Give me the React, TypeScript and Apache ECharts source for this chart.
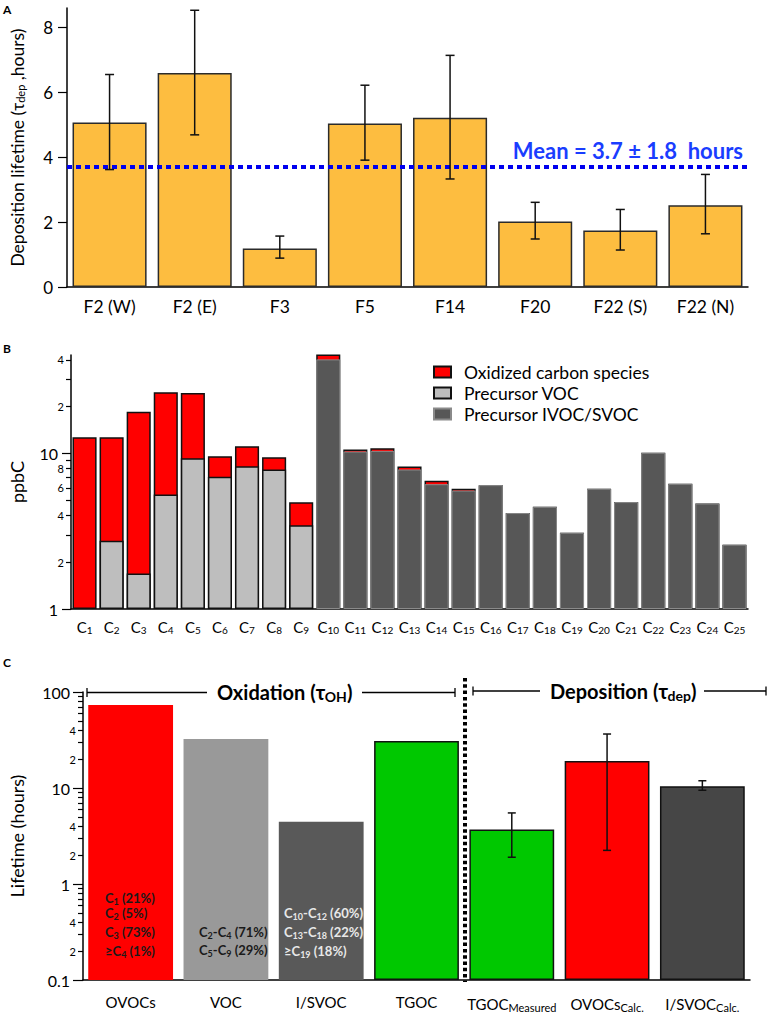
import React, { useEffect, useRef } from 'react';
import * as echarts from 'echarts';

const FONT = 'Lato, "Noto Sans", "DejaVu Sans", sans-serif';

// ---------- Panel A ----------
const fieldCategories = ['F2 (W)', 'F2 (E)', 'F3', 'F5', 'F14', 'F20', 'F22 (S)', 'F22 (N)'];
const depLifetime = [5.07, 6.6, 1.19, 5.04, 5.22, 2.02, 1.74, 2.52];
const depErrLow = [3.62, 4.69, 0.89, 3.91, 3.33, 1.48, 1.14, 1.64];
const depErrHigh = [6.55, 8.53, 1.57, 6.22, 7.14, 2.61, 2.39, 3.47];
const meanLifetime = 3.7;
const meanStd = 1.8;
const lifetimeTicks = [0, 2, 4, 6, 8];

// ---------- Panel B ----------
const carbonNumbers = [
  'C_1', 'C_2', 'C_3', 'C_4', 'C_5', 'C_6', 'C_7', 'C_8', 'C_9', 'C_10', 'C_11', 'C_12', 'C_13',
  'C_14', 'C_15', 'C_16', 'C_17', 'C_18', 'C_19', 'C_20', 'C_21', 'C_22', 'C_23', 'C_24', 'C_25',
];
const oxidizedCarbon = [
  12.7, 9.95, 16.9, 19.3, 15.2, 2.53, 2.85, 1.58, 1.4, 3.0, 0.3, 0.4, 0.37,
  0.32, 0.15, 0, 0, 0, 0, 0, 0, 0, 0, 0, 0,
];
const precursorVOC: (number | null)[] = [
  null, 2.75, 1.69, 5.45, 9.33, 7.08, 8.29, 7.89, 3.45, null, null, null, null,
  null, null, null, null, null, null, null, null, null, null, null, null,
];
const precursorIVOC: (number | null)[] = [
  null, null, null, null, null, null, null, null, null, 40.3, 10.3, 10.4, 7.89,
  6.35, 5.78, 6.26, 4.14, 4.54, 3.09, 5.93, 4.87, 10.1, 6.38, 4.77, 2.59,
];
const ppbcMajorTicks = [1, 10];
const ppbcMinorTicks = [2, 3, 4, 5, 6, 7, 8, 9, 20, 30, 40];
const ppbcLabels = [1, 2, 4, 6, 8, 10, 20, 40];

// ---------- Panel C ----------
const lifetimeCategories = ['OVOCs', 'VOC', 'I/SVOC', 'TGOC', 'TGOC_Measured', 'OVOCs_Calc.', 'I/SVOC_Calc.'];
const lifetimeHours = [73.3, 32.3, 4.45, 30.9, 3.7, 19.1, 10.4];
const lifetimeErrLow: (number | null)[] = [null, null, null, null, 1.9, 2.24, 9.47];
const lifetimeErrHigh: (number | null)[] = [null, null, null, null, 5.5, 36.5, 11.9];
const lifeMajorTicks = [0.1, 1, 10, 100];
const lifeMinorTicks = [0.2, 0.3, 0.4, 0.5, 0.6, 0.7, 0.8, 0.9, 2, 3, 4, 5, 6, 7, 8, 9, 20, 30, 40, 50, 60, 70, 80, 90];
const lifeLabels = [0.1, 0.2, 0.4, 1, 2, 4, 10, 20, 40, 100];

// styles (not data)
const lifetimeColors = ['#ff0000', '#999999', '#595959', '#00c800', '#00c800', '#ff0000', '#464646'];
const lifetimeBorders = [0, 0, 0, 1.5, 1.5, 1.5, 1.5];

const subFmt = (v: string) => {
  const [a, b] = v.split('_');
  return b ? `${a}{s|${b}}` : a;
};

const logLabel = (v: number) => {
  const e = Math.floor(Math.log10(v) + 1e-9);
  const m = Math.round(v / Math.pow(10, e));
  if (m === 1) return `{big|${Number(v.toPrecision(3))}}`;
  return `{small|${m}}`;
};

const errRender = (hw: number) => (params: any, api: any) => {
  const idx = api.value(0);
  const lo = api.value(1);
  const hi = api.value(2);
  const pHi = api.coord([idx, hi]);
  const pLo = api.coord([idx, lo]);
  const st = { stroke: '#111', lineWidth: 1.5 };
  return {
    type: 'group',
    children: [
      { type: 'line', shape: { x1: pHi[0], y1: pHi[1], x2: pLo[0], y2: pLo[1] }, style: st },
      { type: 'line', shape: { x1: pHi[0] - hw, y1: pHi[1], x2: pHi[0] + hw, y2: pHi[1] }, style: st },
      { type: 'line', shape: { x1: pLo[0] - hw, y1: pLo[1], x2: pLo[0] + hw, y2: pLo[1] }, style: st },
    ],
  };
};

const axisLineStyle = { lineStyle: { color: '#000', width: 1.5 } };
const tickStyle = { color: '#000', width: 1.2 };

const logLabelRich = {
  big: { fontSize: 16, fontFamily: FONT, color: '#000', padding: [0, 6, 0, 0] },
  small: { fontSize: 11, fontFamily: FONT, color: '#000' },
};

const annText = (text: string, x: number, y: number, fill: string) => ({
  type: 'text',
  x,
  y,
  z: 100,
  zlevel: 1,
  style: {
    text,
    fill,
    fontSize: 13,
    fontWeight: 'bold',
    fontFamily: FONT,
    verticalAlign: 'middle',
    align: 'left',
    rich: {
      s: { fontSize: 9, fontWeight: 'bold', fontFamily: FONT, fill, padding: [6, 0, 0, 0] },
    },
  },
});

const hLine = (x1: number, x2: number, y: number) => ({
  type: 'line',
  shape: { x1, y1: y, x2, y2: y },
  style: { stroke: '#000', lineWidth: 1.3 },
});
const vBar = (x: number, y: number) => ({
  type: 'line',
  shape: { x1: x, y1: y - 4.5, x2: x, y2: y + 4.5 },
  style: { stroke: '#000', lineWidth: 1.3 },
});

const buildOption = () => ({
  animation: false,
  textStyle: { fontFamily: FONT },
  grid: [
    { left: 67, right: 20, top: 8, height: 279 },
    { left: 68, right: 20, top: 355, height: 254 },
    { left: 79, right: 18, top: 692, height: 288 },
  ],
  legend: {
    data: ['Oxidized carbon species', 'Precursor VOC', 'Precursor IVOC/SVOC'],
    orient: 'vertical',
    left: 428,
    top: 358,
    itemWidth: 17,
    itemHeight: 11,
    itemGap: 3,
    icon: 'rect',
    textStyle: { fontSize: 17.5, fontFamily: FONT, color: '#000', padding: [0, 0, 0, 8] },
  },
  xAxis: [
    {
      gridIndex: 0,
      type: 'category',
      data: fieldCategories,
      axisLine: axisLineStyle,
      axisTick: { length: 9, lineStyle: tickStyle },
      axisLabel: { color: '#000', fontSize: 17.5, fontFamily: FONT, margin: 10 },
    },
    {
      gridIndex: 1,
      type: 'category',
      data: carbonNumbers,
      axisLine: axisLineStyle,
      axisTick: { length: 9, lineStyle: tickStyle },
      axisLabel: {
        color: '#000',
        fontSize: 15,
        fontFamily: FONT,
        margin: 9,
        interval: 0,
        formatter: subFmt,
        rich: { s: { fontSize: 10, fontFamily: FONT, color: '#000', padding: [7, 0, 0, 0] } },
      },
    },
    {
      gridIndex: 2,
      type: 'category',
      data: lifetimeCategories,
      axisLine: axisLineStyle,
      axisTick: { length: 10, lineStyle: tickStyle },
      axisLabel: {
        color: '#000',
        fontSize: 15,
        fontFamily: FONT,
        margin: 14,
        interval: 0,
        formatter: subFmt,
        rich: { s: { fontSize: 11, fontFamily: FONT, color: '#000', padding: [8, 0, 0, 0] } },
      },
    },
  ],
  yAxis: [
    {
      gridIndex: 0,
      type: 'value',
      min: 0,
      max: 8.6,
      name: 'Deposition lifetime (τ{s|dep} ,hours)',
      nameLocation: 'middle',
      nameGap: 41,
      nameTextStyle: {
        fontSize: 17.5,
        fontFamily: FONT,
        color: '#000',
        rich: { s: { fontSize: 11, fontFamily: FONT, color: '#000', padding: [7, 0, 0, 0] } },
      },
      axisLine: { show: true, ...axisLineStyle },
      axisTick: { show: true, length: 9, lineStyle: tickStyle, customValues: lifetimeTicks },
      axisLabel: { customValues: lifetimeTicks, color: '#000', fontSize: 17, fontFamily: FONT, margin: 14 },
      splitLine: { show: false },
    },
    {
      gridIndex: 1,
      type: 'log',
      logBase: 10,
      min: 1,
      max: 43,
      name: 'ppbC',
      nameLocation: 'middle',
      nameGap: 45,
      nameTextStyle: { fontSize: 18, fontFamily: FONT, color: '#000' },
      axisLine: { show: true, ...axisLineStyle },
      axisTick: { show: true, length: 9, lineStyle: tickStyle, customValues: ppbcMajorTicks },
      axisLabel: { customValues: ppbcLabels, formatter: logLabel, rich: logLabelRich, margin: 7 },
      splitLine: { show: false },
    },
    {
      gridIndex: 1,
      type: 'log',
      logBase: 10,
      min: 1,
      max: 43,
      position: 'left',
      axisLine: { show: false },
      axisTick: { show: true, length: 5, lineStyle: tickStyle, customValues: ppbcMinorTicks },
      axisLabel: { show: false },
      splitLine: { show: false },
    },
    {
      gridIndex: 2,
      type: 'log',
      logBase: 10,
      min: 0.1,
      max: 100,
      startValue: 0.1,
      name: 'Lifetime (hours)',
      nameLocation: 'middle',
      nameGap: 57,
      nameTextStyle: { fontSize: 18, fontFamily: FONT, color: '#000' },
      axisLine: { show: true, ...axisLineStyle },
      axisTick: { show: true, length: 10, lineStyle: tickStyle, customValues: lifeMajorTicks },
      axisLabel: { customValues: lifeLabels, formatter: logLabel, rich: logLabelRich, margin: 7 },
      splitLine: { show: false },
    },
    {
      gridIndex: 2,
      type: 'log',
      logBase: 10,
      min: 0.1,
      max: 100,
      position: 'left',
      axisLine: { show: false },
      axisTick: { show: true, length: 5, lineStyle: tickStyle, customValues: lifeMinorTicks },
      axisLabel: { show: false },
      splitLine: { show: false },
    },
  ],
  series: [
    {
      type: 'bar',
      xAxisIndex: 0,
      yAxisIndex: 0,
      data: depLifetime,
      barCategoryGap: '13%',
      itemStyle: { color: '#fdbd40', borderColor: '#2b2b2b', borderWidth: 1.5 },
      markLine: {
        silent: true,
        symbol: 'none',
        data: [{ yAxis: meanLifetime }],
        lineStyle: { color: '#0000ee', width: 4, type: [5, 4] },
        label: {
          position: 'insideEndTop',
          formatter: `Mean = ${meanLifetime} ± ${meanStd}  hours`,
          color: '#1a3dff',
          fontSize: 22,
          fontWeight: 'bold',
          fontFamily: FONT,
          distance: 5,
        },
      },
    },
    {
      type: 'custom',
      xAxisIndex: 0,
      yAxisIndex: 0,
      z: 5,
      data: fieldCategories.map((_, i) => [i, depErrLow[i], depErrHigh[i]]),
      encode: { x: 0, y: [1, 2] },
      renderItem: errRender(4.5),
    },
    {
      name: 'Oxidized carbon species',
      type: 'bar',
      xAxisIndex: 1,
      yAxisIndex: 1,
      barGap: '-100%',
      barCategoryGap: '11%',
      data: oxidizedCarbon.map((v, i) => (precursorVOC[i] ?? precursorIVOC[i] ?? 0) + v),
      itemStyle: { color: '#ff0000', borderColor: '#111', borderWidth: 1.5 },
    },
    {
      name: 'Precursor VOC',
      type: 'bar',
      xAxisIndex: 1,
      yAxisIndex: 1,
      barGap: '-100%',
      barCategoryGap: '11%',
      data: precursorVOC.map((v) => (v == null ? '-' : v)),
      itemStyle: { color: '#bebebe', borderColor: '#111', borderWidth: 1.5 },
    },
    {
      name: 'Precursor IVOC/SVOC',
      type: 'bar',
      xAxisIndex: 1,
      yAxisIndex: 1,
      barGap: '-100%',
      barCategoryGap: '11%',
      data: precursorIVOC.map((v) => (v == null ? '-' : v)),
      itemStyle: { color: '#575757', borderColor: '#8a8a8a', borderWidth: 1 },
    },
    {
      type: 'bar',
      xAxisIndex: 2,
      yAxisIndex: 3,
      barCategoryGap: '11%',
      data: lifetimeHours.map((v, i) => ({
        value: v,
        itemStyle: {
          color: lifetimeColors[i],
          borderColor: '#111',
          borderWidth: lifetimeBorders[i],
        },
      })),
    },
    {
      type: 'custom',
      xAxisIndex: 2,
      yAxisIndex: 3,
      z: 5,
      data: lifetimeCategories
        .map((_, i) => [i, lifetimeErrLow[i], lifetimeErrHigh[i]])
        .filter((d) => d[1] != null),
      encode: { x: 0, y: [1, 2] },
      renderItem: errRender(4),
    },
  ],
  graphic: [
    { type: 'text', x: 3, y: 3, style: { text: 'A', fontSize: 12, fontWeight: 'bold', fontFamily: FONT, fill: '#000' } },
    { type: 'text', x: 3, y: 342, style: { text: 'B', fontSize: 12, fontWeight: 'bold', fontFamily: FONT, fill: '#000' } },
    { type: 'text', x: 3, y: 656, style: { text: 'C', fontSize: 12, fontWeight: 'bold', fontFamily: FONT, fill: '#000' } },
    // oxidation bracket
    vBar(87, 692.5),
    hLine(87, 207, 692.5),
    {
      type: 'text',
      x: 217,
      y: 692,
      style: {
        text: 'Oxidation (τ{s|OH})',
        fontSize: 20,
        fontWeight: 'bold',
        fontFamily: FONT,
        fill: '#000',
        verticalAlign: 'middle',
        rich: { s: { fontSize: 14, fontWeight: 'bold', fontFamily: FONT, fill: '#000', padding: [8, 0, 0, 0] } },
      },
    },
    hLine(362, 455, 692.5),
    vBar(455, 692.5),
    // deposition bracket
    vBar(473, 691),
    hLine(473, 540, 691),
    {
      type: 'text',
      x: 550,
      y: 691,
      style: {
        text: 'Deposition (τ{s|dep})',
        fontSize: 20,
        fontWeight: 'bold',
        fontFamily: FONT,
        fill: '#000',
        verticalAlign: 'middle',
        rich: { s: { fontSize: 14, fontWeight: 'bold', fontFamily: FONT, fill: '#000', padding: [8, 0, 0, 0] } },
      },
    },
    hLine(704, 766, 691),
    vBar(766, 691),
    // dotted separator
    {
      type: 'line',
      shape: { x1: 465, y1: 678, x2: 465, y2: 982 },
      style: { stroke: '#000', lineWidth: 4, lineDash: [3.5, 2.8] },
      z: 10,
    },
    // in-bar annotations
    annText('C{s|1} (21%)', 105, 898, '#1a1a1a'),
    annText('C{s|2} (5%)', 105, 913, '#1a1a1a'),
    annText('C{s|3} (73%)', 105, 932, '#1a1a1a'),
    annText('≥C{s|4} (1%)', 105, 951, '#1a1a1a'),
    annText('C{s|2}-C{s|4} (71%)', 199, 932, '#1a1a1a'),
    annText('C{s|5}-C{s|9} (29%)', 199, 950, '#1a1a1a'),
    annText('C{s|10}-C{s|12} (60%)', 284, 913, '#e8e8e8'),
    annText('C{s|13}-C{s|18} (22%)', 284, 932, '#e8e8e8'),
    annText('≥C{s|19} (18%)', 284, 951, '#e8e8e8'),
  ],
});

export default function App() {
  const ref = useRef<HTMLDivElement>(null);
  useEffect(() => {
    const chart = echarts.init(ref.current!, null, { renderer: 'svg' });
    chart.setOption(buildOption() as any);
    return () => chart.dispose();
  }, []);
  return (
    <div
      ref={ref}
      style={{ position: 'fixed', left: 0, top: 0, width: 768, height: 1014, background: '#fff' }}
    />
  );
}
